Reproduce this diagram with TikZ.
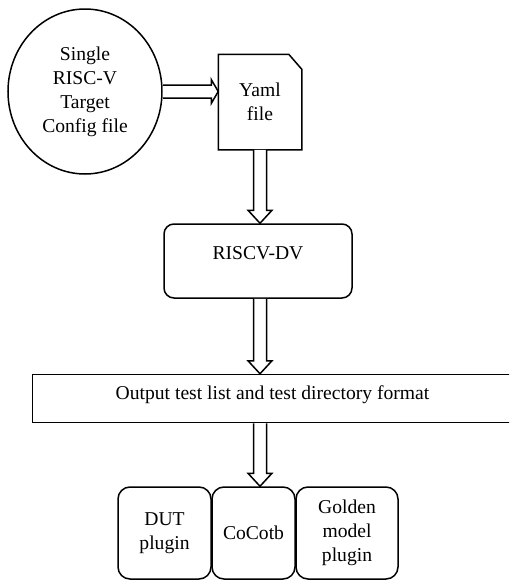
\documentclass[tikz,border=0pt]{standalone}
\usepackage{fontspec}
\setmainfont{Liberation Serif}
\usetikzlibrary{calc,shapes.geometric}
\tikzset{
  base/.style={draw=black, line width=1.5pt, inner sep=0pt, font=\fontsize{19.6}{24}\selectfont, align=center},
  roundbox/.style={base, rectangle, rounded corners=12pt},
  fatarrow/.style={draw=black, line width=1.5pt, fill=white, line join=miter},
}
\newcommand\fatarr[3][13]{%
  \path (#2) coordinate (fa-s) (#3) coordinate (fa-t);
  \path ($(fa-t)!#1pt!(fa-s)$) coordinate (fa-h);
  \draw[fatarrow] ($(fa-s)!6.5pt!90:(fa-t)$) -- ($(fa-h)!6.5pt!90:(fa-t)$) -- ($(fa-h)!12pt!90:(fa-t)$) -- (fa-t) -- ($(fa-h)!12pt!-90:(fa-t)$) -- ($(fa-h)!6.5pt!-90:(fa-t)$) -- ($(fa-s)!6.5pt!-90:(fa-t)$);
}
\begin{document}
\begin{tikzpicture}[x=1pt,y=-1pt]
\clip (0,0) rectangle (509,581);
\fill[white] (0,0) rectangle (509,581);
% nodes
\node[base, ellipse, minimum width=154pt, minimum height=165pt] (cfg) at (85,91.5) {Single\\RISC-V\\Target\\Config file};
\node[base, draw=none, rectangle, minimum width=82pt, minimum height=94pt] (yaml) at (260,102) {Yaml\\file};
\draw[line width=1.5pt, line join=miter] (yaml.south west) -- (yaml.north west) -- ([xshift=-13pt]yaml.north east) -- ([yshift=-15pt]yaml.north east) -- (yaml.south east) -- cycle;
\node[roundbox, rounded corners=10pt, minimum width=188pt, minimum height=74pt, text depth=16.6pt] (rdv) at (258,261) {RISCV-DV};
\node[base, rectangle, minimum width=480pt, minimum height=48pt, text depth=11pt] (out) at (272.5,398.5) {Output test list and test directory format};
\node[roundbox, minimum width=93pt, minimum height=92pt] (dut) at (164.5,533) {DUT\\plugin};
\node[roundbox, minimum width=83pt, minimum height=92pt] (coco) at (253.5,533) {CoCotb};
\node[roundbox, minimum width=102pt, minimum height=92pt] (gold) at (347,533) {Golden\\model\\plugin};
% connectors
\fatarr[7]{cfg.east}{cfg.east -| yaml.west}
\fatarr{yaml.south}{yaml.south |- rdv.north}
\fatarr{yaml.south |- rdv.south}{yaml.south |- out.north}
\fatarr{yaml.south |- out.south}{yaml.south |- coco.north}
\end{tikzpicture}
\end{document}
